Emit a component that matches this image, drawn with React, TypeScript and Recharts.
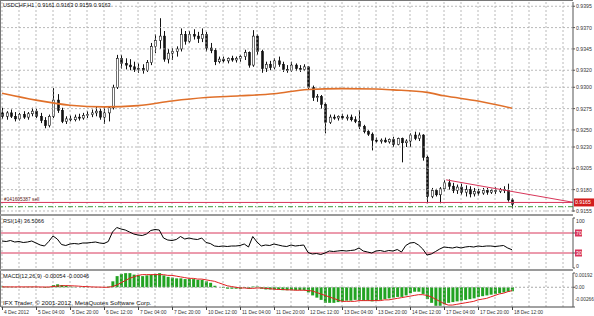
import { ComposedChart, Bar, Line, XAxis, YAxis, ReferenceLine } from "recharts"

// 2-hour bars, 4 Dec 12:00 .. 18 Dec 12:00, prices in pips (9266 = 0.9266)
const opens = [
  9270, 9266, 9270, 9266, 9263, 9268, 9265, 9269, 9272, 9266, 9261, 9255, 9266, 9285, 9273, 9260,
  9263, 9262, 9265, 9264, 9267, 9268, 9270, 9272, 9265, 9270, 9276, 9300, 9334, 9328, 9326, 9324,
  9321, 9322, 9320, 9329, 9348, 9355, 9360, 9333, 9340, 9342, 9345, 9362, 9354, 9362, 9360, 9357,
  9362, 9346, 9343, 9330, 9333, 9331, 9334, 9332, 9334, 9336, 9341, 9326, 9360, 9342, 9322, 9327,
  9323, 9331, 9327, 9321, 9320, 9326, 9322, 9321, 9324, 9300, 9288, 9289, 9280, 9259, 9265, 9264,
  9266, 9264, 9265, 9262, 9260, 9254, 9248, 9245, 9238, 9237, 9238, 9236, 9239, 9233, 9240, 9235,
  9237, 9244, 9240, 9244, 9218, 9172, 9179, 9174, 9181, 9188, 9184, 9179, 9183, 9177, 9180, 9175,
  9178, 9176, 9179, 9177, 9179, 9178, 9180, 9179, 9168,
]
const highs = [
  9276, 9272, 9274, 9271, 9270, 9272, 9271, 9276, 9275, 9270, 9265, 9268, 9299, 9292, 9276, 9266,
  9267, 9268, 9269, 9270, 9272, 9274, 9278, 9275, 9277, 9278, 9303, 9338, 9338, 9334, 9333, 9330,
  9328, 9327, 9332, 9352, 9362, 9381, 9366, 9345, 9346, 9348, 9369, 9366, 9366, 9368, 9365, 9369,
  9365, 9352, 9346, 9336, 9336, 9335, 9337, 9336, 9338, 9344, 9342, 9367, 9362, 9344, 9330, 9331,
  9334, 9336, 9330, 9326, 9330, 9328, 9326, 9327, 9325, 9302, 9292, 9291, 9282, 9268, 9268, 9267,
  9269, 9268, 9268, 9266, 9273, 9256, 9250, 9247, 9241, 9240, 9241, 9240, 9242, 9241, 9241, 9239,
  9246, 9248, 9247, 9245, 9220, 9182, 9181, 9183, 9191, 9192, 9188, 9186, 9187, 9185, 9184, 9182,
  9181, 9182, 9182, 9181, 9183, 9182, 9184, 9187, 9170,
]
const lows = [
  9263, 9262, 9264, 9260, 9261, 9263, 9262, 9266, 9264, 9258, 9252, 9253, 9264, 9270, 9258, 9257,
  9260, 9260, 9261, 9262, 9264, 9265, 9266, 9262, 9257, 9260, 9274, 9298, 9322, 9321, 9320, 9318,
  9317, 9316, 9318, 9326, 9340, 9345, 9330, 9328, 9332, 9336, 9342, 9350, 9352, 9356, 9352, 9353,
  9342, 9340, 9326, 9328, 9329, 9328, 9330, 9329, 9330, 9332, 9323, 9324, 9338, 9317, 9318, 9320,
  9321, 9324, 9318, 9317, 9318, 9319, 9318, 9319, 9297, 9284, 9283, 9275, 9246, 9257, 9262, 9261,
  9262, 9261, 9260, 9258, 9251, 9246, 9243, 9226, 9235, 9234, 9235, 9234, 9230, 9232, 9212, 9230,
  9230, 9238, 9237, 9214, 9164, 9170, 9172, 9164, 9178, 9180, 9176, 9175, 9174, 9172, 9171, 9172,
  9173, 9174, 9174, 9175, 9175, 9176, 9176, 9166, 9158,
]
const closes = [
  9266, 9270, 9266, 9263, 9268, 9265, 9269, 9272, 9266, 9261, 9255, 9266, 9285, 9273, 9260, 9263,
  9262, 9265, 9264, 9267, 9268, 9270, 9272, 9265, 9270, 9276, 9300, 9334, 9328, 9326, 9324, 9321,
  9322, 9320, 9329, 9348, 9355, 9360, 9333, 9340, 9342, 9345, 9362, 9354, 9362, 9360, 9357, 9362,
  9346, 9343, 9330, 9333, 9331, 9334, 9332, 9334, 9336, 9341, 9326, 9360, 9342, 9322, 9327, 9323,
  9331, 9327, 9321, 9320, 9326, 9322, 9321, 9324, 9300, 9288, 9289, 9280, 9259, 9265, 9264, 9266,
  9264, 9265, 9262, 9260, 9254, 9248, 9245, 9238, 9237, 9238, 9236, 9239, 9233, 9240, 9235, 9237,
  9244, 9240, 9244, 9218, 9172, 9179, 9174, 9181, 9188, 9184, 9179, 9183, 9177, 9180, 9175, 9178,
  9176, 9179, 9177, 9179, 9178, 9180, 9179, 9168, 9163,
]

// moving average, sampled bars
const maIdx = [0, 8, 16, 24, 32, 40, 48, 56, 64, 72, 80, 88, 92, 100, 104, 112, 120]
const maVal = [9293, 9285, 9279, 9277, 9278.5, 9284, 9288, 9290, 9292.5, 9297.5, 9298.5, 9298, 9297, 9294, 9290, 9284, 9275.5]

const rsiVals = [
  54, 53, 55, 52, 53, 51, 52, 54, 50, 46, 44, 53, 64, 58, 47, 45,
  48, 49, 48, 50, 50, 51, 52, 50, 49, 53, 72, 81, 78, 76, 72, 68,
  66, 65, 68, 75, 77, 76, 60, 56, 55, 57, 63, 58, 60, 58, 57, 60,
  51, 49, 44, 43, 44, 43, 44, 44, 45, 48, 42, 63, 52, 44, 46, 45,
  48, 46, 44, 43, 46, 44, 45, 46, 31, 28, 29, 27, 30, 34, 33, 34,
  35, 34, 35, 36, 40, 34, 32, 30, 34, 35, 33, 35, 34, 37, 32, 45,
  50, 51, 46, 38, 26, 28, 33, 38, 42, 41, 40, 42, 40, 42, 43, 42,
  44, 43, 44, 44, 43, 44, 45, 40, 36.5,
]

const macdVals = [
  0.0001, 0.00008, 0.00005, 0.00003, 0.00002, 0.00004, 0.00006, 0.00008, 0.00005, -0.00003, -0.0001, -0.00005, 0.0003, 0.0004, 0.0003, 0.0002,
  0.0001, 0.00005, 0.0, -0.00003, -0.00002, 0.0, 0.00002, 0.0, -0.00003, 0.0001, 0.0008, 0.0015, 0.0018, 0.0019, 0.0019, 0.0017,
  0.0016, 0.0015, 0.0016, 0.0017, 0.0018, 0.0019, 0.0016, 0.0014, 0.0013, 0.0012, 0.0012, 0.0011, 0.0011, 0.0011, 0.001, 0.001,
  0.0008, 0.0006, 0.0002, 0.0, -0.0001, -0.0002, -0.0002, -0.0002, -0.0002, -0.0001, -0.0002, 0.0001, 0.0001, -0.0002, -0.0003, -0.0003,
  -0.0003, -0.0003, -0.0004, -0.0004, -0.0004, -0.0004, -0.0004, -0.0004, -0.0007, -0.0011, -0.0014, -0.0017, -0.0021, -0.0021, -0.0021, -0.002,
  -0.0019, -0.0018, -0.0018, -0.0017, -0.0017, -0.0018, -0.0018, -0.0019, -0.0018, -0.0017, -0.0016, -0.0015, -0.0014, -0.0013, -0.0013, -0.0011,
  -0.0008, -0.0006, -0.0006, -0.0009, -0.0016, -0.0021, -0.0025, -0.0025, -0.0023, -0.0021, -0.002, -0.0019, -0.0018, -0.0017, -0.0016, -0.0015,
  -0.0013, -0.0012, -0.0011, -0.001, -0.0009, -0.0008, -0.0007, -0.0006, -0.00054,
]
const signalVals = [
  0.00005, 0.00005, 0.00005, 0.00005, 0.00005, 0.00005, 0.00005, 0.00005, 0.00005, 0.00004, 0.00003, 0.00003, 0.0001, 0.00015, 0.0002, 0.00022,
  0.0002, 0.00018, 0.00015, 0.0001, 0.00008, 0.00005, 0.00003, 0.00002, 0.0, 0.0, 0.0001, 0.0003, 0.0006, 0.0009, 0.0012, 0.0014,
  0.0016, 0.0017, 0.0017, 0.0017, 0.0017, 0.0017, 0.0017, 0.0016, 0.0016, 0.0015, 0.0014, 0.0013, 0.0012, 0.0012, 0.0011, 0.0011,
  0.001, 0.0009, 0.0008, 0.0006, 0.0004, 0.0002, 0.0001, 0.0, -0.0001, -0.0001, -0.00015, -0.00015, -0.0001, -0.0001, -0.00015, -0.0002,
  -0.00025, -0.0003, -0.0003, -0.00035, -0.00035, -0.0004, -0.0004, -0.0004, -0.00045, -0.0005, -0.0007, -0.0009, -0.0011, -0.0013, -0.0015, -0.0017,
  -0.0019, -0.0019, -0.0019, -0.0019, -0.0018, -0.0018, -0.0018, -0.0018, -0.0018, -0.0018, -0.0017, -0.0017, -0.0016, -0.0015, -0.0014, -0.0013,
  -0.0012, -0.0011, -0.001, -0.001, -0.0011, -0.0013, -0.0016, -0.0019, -0.0022, -0.0024, -0.0024, -0.0023, -0.0022, -0.0021, -0.002, -0.0019,
  -0.0017, -0.0016, -0.0015, -0.0013, -0.0011, -0.0009, -0.0008, -0.0006, -0.00046,
]

const priceTicks = [9395, 9370, 9345, 9320, 9300, 9275, 9250, 9230, 9205, 9180, 9155]
const rsiTicks = [100, 70, 30, 0]
const macdTicks = [0.00192, 0, -0.00266]
const macdTickText = ["0.00192", "0.00", "-0.00266"]
const dateIdx = [0, 8, 16, 24, 32, 40, 48, 56, 64, 72, 80, 88, 96, 104, 112, 120]
const dateLabels = [
  "4 Dec 2012", "5 Dec 04:00", "5 Dec 20:00", "6 Dec 12:00", "7 Dec 04:00", "7 Dec 20:00",
  "10 Dec 12:00", "11 Dec 04:00", "11 Dec 20:00", "12 Dec 12:00", "13 Dec 04:00", "13 Dec 20:00",
  "14 Dec 12:00", "17 Dec 04:00", "17 Dec 20:00", "18 Dec 12:00",
]
const orderLevel = 9165
const bidLevel = 9160
const trendLine = [{ x: 104.5, y: 9191.5 }, { x: 134.35, y: 9165.2 }]

const rows: any[] = closes.map((c, i) => ({
  i, o: opens[i], h: highs[i], l: lows[i], c,
  rsi: rsiVals[i], macd: macdVals[i], signal: signalVals[i],
}))
maIdx.forEach((idx, k) => { rows[idx].ma = maVal[k] })

const X_DOMAIN: [number, number] = [-0.235, 134.35]
const gridX = Array.from({ length: 34 }, (_, k) => k * 4)
const FONT = "'Liberation Sans', Arial, sans-serif"
const GRID = "#a8a8a8"
const RED = "#d8365a"
const FS = 5.2

function Candle(props: any) {
  const { x, y, width, height, payload } = props
  if (x == null || y == null || !payload) return null
  const cx = Math.round(x + width / 2) + 0.5
  const top = Math.min(y, y + height)
  const span = Math.abs(height)
  const k = payload.h === payload.l ? 0 : span / (payload.h - payload.l)
  const bTop = top + (payload.h - Math.max(payload.o, payload.c)) * k
  const bH = Math.max(1, Math.abs(payload.o - payload.c) * k)
  const bull = payload.c >= payload.o
  return (
    <g>
      <line x1={cx} x2={cx} y1={top} y2={top + span} stroke="#111" strokeWidth={1} />
      <rect x={cx - 1} y={bTop} width={2} height={bH} fill={bull ? "#fff" : "#111"} stroke="#111" strokeWidth={0.6} />
    </g>
  )
}

const PriceTick = ({ x, y, payload }: any) => (
  <text x={x} y={y} dy={2} fontSize={FS} fontFamily={FONT} fill="#333">{(payload.value / 10000).toFixed(4)}</text>
)

const RsiTick = ({ x, y, payload }: any) => {
  const v = payload.value
  const dy = v === 100 ? 5 : v === 0 ? 0 : 2
  if (v === 70 || v === 30) {
    return (
      <g>
        <rect x={x - 1} y={y - 3.5} width={7} height={7} fill={RED} />
        <text x={x} y={y} dy={2} fontSize={FS} fontFamily={FONT} fill="#fff">{v}</text>
      </g>
    )
  }
  return <text x={x} y={y} dy={dy} fontSize={FS} fontFamily={FONT} fill="#333">{v}</text>
}

const MacdTick = ({ x, y, payload }: any) => {
  const k = macdTicks.indexOf(payload.value)
  const dy = k === 0 ? 4 : k === 2 ? -6 : 2
  return <text x={x - 1} y={y} dy={dy} fontSize={4.8} fontFamily={FONT} fill="#333">{macdTickText[k]}</text>
}

const DateTick = ({ x, y, payload }: any) => {
  const k = dateIdx.indexOf(payload.value)
  return (
    <g>
      <line x1={x + 0.5} x2={x + 0.5} y1={y} y2={y + 3} stroke="#444" />
      <text x={x + 2} y={y + 7} fontSize={4.9} fontFamily={FONT} fill="#333">{dateLabels[k]}</text>
    </g>
  )
}

const OrderLabel = ({ viewBox }: any) => {
  const { x, y, width } = viewBox
  return (
    <g>
      <text x={x + 3} y={y - 1.5} fontSize={4.8} fontFamily={FONT} fill="#5a1a1a">#141605387 sell</text>
      <rect x={x + width + 1} y={y - 4} width={20} height={8} fill="#d21c1c" />
      <text x={x + width + 2} y={y + 2} fontSize={FS} fontFamily={FONT} fill="#fff">{(orderLevel / 10000).toFixed(4)}</text>
    </g>
  )
}

const vGrid = gridX.map(v => (
  <ReferenceLine key={"g" + v} x={v} stroke={GRID} strokeWidth={0.8} strokeDasharray="2 2" ifOverflow="hidden" />
))

const textStyle: any = { position: "absolute", fontFamily: FONT, fontSize: 5.6, color: "#111", lineHeight: "7px", whiteSpace: "nowrap" }

export default function App() {
  return (
    <div style={{ position: "absolute", left: 0, top: 0, width: 594, height: 316, background: "#fff", overflow: "hidden" }}>
      {/* price panel */}
      <div style={{ position: "absolute", left: 0, top: 0 }}>
        <ComposedChart width={594} height={214} data={rows} margin={{ top: 2, right: 0, bottom: 2, left: 1 }}>
          <XAxis type="number" dataKey="i" domain={X_DOMAIN} hide allowDataOverflow />
          <YAxis orientation="right" width={21} domain={[9153.8, 9400]} ticks={priceTicks} interval={0}
            allowDataOverflow tick={<PriceTick />} tickSize={2} tickMargin={1} stroke="#555" />
          {vGrid}
          {priceTicks.map(v => (
            <ReferenceLine key={"h" + v} y={v} stroke={GRID} strokeWidth={0.8} strokeDasharray="2 2" />
          ))}
          <ReferenceLine y={bidLevel} stroke="#3a9a3a" strokeDasharray="5 2 1 2" />
          <ReferenceLine y={orderLevel} stroke={RED} strokeWidth={1} label={<OrderLabel />} />
          <ReferenceLine segment={trendLine} stroke={RED} strokeWidth={1} ifOverflow="visible" />
          <Bar dataKey={(d: any) => [d.l, d.h]} barSize={3} shape={<Candle />} isAnimationActive={false} />
          <Line dataKey="ma" type="monotone" connectNulls stroke="#e0702a" strokeWidth={1.6} dot={false} isAnimationActive={false} />
        </ComposedChart>
      </div>

      {/* RSI panel */}
      <div style={{ position: "absolute", left: 0, top: 216 }}>
        <ComposedChart width={594} height={54} data={rows} margin={{ top: 2, right: 0, bottom: 2, left: 1 }}>
          <XAxis type="number" dataKey="i" domain={X_DOMAIN} hide allowDataOverflow />
          <YAxis orientation="right" width={21} domain={[0, 100]} ticks={rsiTicks} interval={0}
            tick={<RsiTick />} tickSize={2} tickMargin={1} stroke="#555" />
          {vGrid}
          <ReferenceLine y={70} stroke={RED} strokeWidth={1} />
          <ReferenceLine y={30} stroke={RED} strokeWidth={1} />
          <Line dataKey="rsi" type="linear" stroke="#000" strokeWidth={1} dot={false} isAnimationActive={false} />
        </ComposedChart>
      </div>

      {/* MACD panel */}
      <div style={{ position: "absolute", left: 0, top: 270 }}>
        <ComposedChart width={594} height={46} data={rows} margin={{ top: 3, right: 0, bottom: 0, left: 1 }}>
          <XAxis type="number" dataKey="i" domain={X_DOMAIN} ticks={dateIdx} interval={0} allowDataOverflow
            height={9} tick={<DateTick />} tickLine={false} tickSize={0} tickMargin={0} stroke="#444" />
          <YAxis orientation="right" width={21} domain={[-0.00266, 0.00192]} ticks={macdTicks} interval={0}
            allowDataOverflow tick={<MacdTick />} tickSize={2} tickMargin={1} stroke="#555" />
          {vGrid}
          <ReferenceLine y={0} stroke={GRID} strokeDasharray="2 2" />
          <Bar dataKey="macd" barSize={3} fill="#22a322" isAnimationActive={false} />
          <Line dataKey="signal" type="linear" stroke="#e02020" strokeWidth={1} dot={false} isAnimationActive={false} />
        </ComposedChart>
      </div>

      {/* frame and panel separators */}
      <div style={{ position: "absolute", left: 0, top: 0, width: 573, height: 1, background: "#777" }} />
      <div style={{ position: "absolute", left: 0, top: 0, width: 1, height: 307, background: "#777" }} />
      <div style={{ position: "absolute", left: 0, top: 214, width: 573, height: 2, background: "#9a9a9a" }} />
      <div style={{ position: "absolute", left: 0, top: 269, width: 573, height: 2, background: "#9a9a9a" }} />

      <div style={{ ...textStyle, left: 3, top: 2 }}>USDCHF,H1&nbsp; 0.9161 0.9163 0.9159 0.9163</div>
      <div style={{ ...textStyle, left: 3, top: 218 }}>RSI(14) 36.5066</div>
      <div style={{ ...textStyle, left: 3, top: 273 }}>MACD(12,26,9) -0.00054 -0.00046</div>
      <div style={{ ...textStyle, left: 3, top: 299, fontSize: 6.2 }}>IFX Trader, © 2001-2012, MetaQuotes Software Corp.</div>
    </div>
  )
}
